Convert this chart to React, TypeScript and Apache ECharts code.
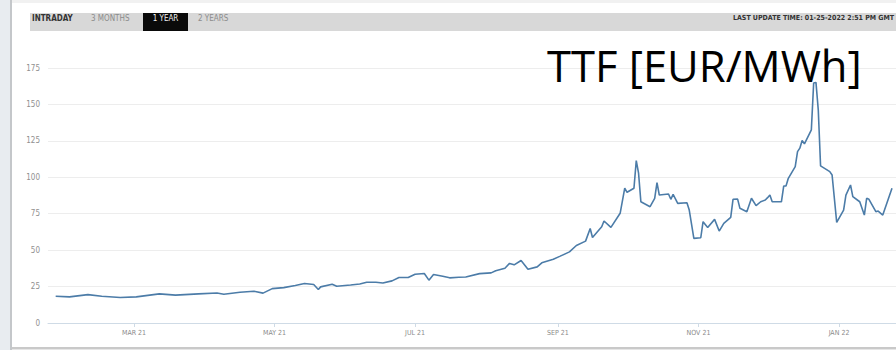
import React, { useEffect, useRef } from 'react';
import * as echarts from 'echarts';

const dates = [
  '2021-01-26','2021-02-01','2021-02-09','2021-02-15','2021-02-23','2021-03-02','2021-03-12','2021-03-19','2021-03-29','2021-04-06',
  '2021-04-09','2021-04-16','2021-04-22','2021-04-26','2021-04-30','2021-05-05','2021-05-10','2021-05-14','2021-05-18','2021-05-20',
  '2021-05-21','2021-05-26','2021-05-28','2021-06-03','2021-06-07','2021-06-10','2021-06-14','2021-06-17','2021-06-21','2021-06-24',
  '2021-06-28','2021-07-01','2021-07-05','2021-07-07','2021-07-09','2021-07-13','2021-07-16','2021-07-20','2021-07-23','2021-07-29',
  '2021-08-03','2021-08-05','2021-08-09','2021-08-11','2021-08-13','2021-08-16','2021-08-19','2021-08-23','2021-08-25','2021-08-30',
  '2021-09-02','2021-09-06','2021-09-09','2021-09-13','2021-09-15','2021-09-16','2021-09-20','2021-09-21','2021-09-24','2021-09-28',
  '2021-09-30','2021-10-01','2021-10-04','2021-10-05','2021-10-06','2021-10-07','2021-10-11','2021-10-13','2021-10-14','2021-10-15',
  '2021-10-19','2021-10-20','2021-10-21','2021-10-23','2021-10-27','2021-10-28','2021-10-30','2021-11-02','2021-11-03','2021-11-05',
  '2021-11-08','2021-11-10','2021-11-12','2021-11-15','2021-11-16','2021-11-18','2021-11-19','2021-11-22','2021-11-24','2021-11-26',
  '2021-11-28','2021-11-30','2021-12-01','2021-12-02','2021-12-03','2021-12-07','2021-12-08','2021-12-09','2021-12-10','2021-12-13',
  '2021-12-14','2021-12-15','2021-12-16','2021-12-17','2021-12-20','2021-12-21','2021-12-22','2021-12-23','2021-12-24','2021-12-28',
  '2021-12-29','2021-12-31','2022-01-03','2022-01-04','2022-01-06','2022-01-07','2022-01-10','2022-01-12','2022-01-13','2022-01-14',
  '2022-01-17','2022-01-18','2022-01-20','2022-01-24',
];

const prices = [
  18.4, 17.9, 19.5, 18.4, 17.5, 17.9, 20.0, 19.1, 20.0, 20.6,
  19.7, 21.1, 21.8, 20.5, 23.6, 24.3, 25.7, 27.1, 26.4, 23.0,
  24.8, 26.6, 25.2, 26.1, 26.8, 28.0, 28.0, 27.4, 28.9, 31.2,
  31.2, 33.5, 34.0, 29.4, 33.3, 32.1, 31.0, 31.4, 31.6, 33.9,
  34.4, 35.8, 37.6, 40.9, 39.9, 42.9, 36.9, 38.5, 41.3, 43.8,
  45.9, 48.8, 53.2, 56.2, 64.9, 58.7, 66.0, 70.0, 65.6, 75.3,
  92.5, 89.7, 92.5, 111.4, 102.8, 83.2, 79.8, 85.6, 96.3, 87.8,
  88.5, 84.9, 88.3, 82.1, 82.5, 77.5, 58.1, 58.5, 69.5, 65.6,
  71.1, 63.1, 68.4, 72.5, 84.9, 85.0, 78.7, 76.4, 85.6, 80.5,
  83.2, 84.4, 86.0, 87.8, 83.2, 83.2, 94.0, 94.0, 99.3, 107.3,
  117.6, 120.0, 125.2, 122.9, 132.6, 164.7, 165.1, 146.3, 107.8, 103.9,
  101.6, 69.1, 77.5, 87.8, 94.7, 86.7, 83.2, 74.1, 85.6, 84.9,
  76.4, 76.8, 74.1, 92.5,
];

const tickDates = ['2021-03-01', '2021-05-01', '2021-07-01', '2021-09-01', '2021-11-01', '2022-01-01'];
const tickLabels = ['MAR 21', 'MAY 21', 'JUL 21', 'SEP 21', 'NOV 21', 'JAN 22'];
const tabs = ['INTRADAY', '3 MONTHS', '1 YEAR', '2 YEARS'];
const titleText = 'TTF [EUR/MWh]';
const updateText = 'LAST UPDATE TIME: 01-25-2022 2:51 PM GMT';

function toTs(s: string): number {
  const [y, m, d] = s.split('-').map(Number);
  return new Date(y, m - 1, d).getTime();
}

export default function App() {
  const ref = useRef<HTMLDivElement>(null);

  useEffect(() => {
    if (!ref.current) return;
    const chart = echarts.init(ref.current, undefined, { renderer: 'svg' });
    const tickTs = tickDates.map(toTs);
    const narrow = '"DejaVu Sans Condensed", "Liberation Sans Narrow", "Liberation Sans", sans-serif';
    const tabX = [32, 91, 165.5, 198];

    const option: any = {
      animation: false,
      backgroundColor: '#ffffff',
      grid: { left: 48, right: 0, top: 68, bottom: 27, containLabel: false, outerBoundsMode: 'none' },
      xAxis: {
        type: 'value',
        min: new Date(2021, 0, 22, 16).getTime(),
        max: new Date(2022, 0, 25, 17, 45).getTime(),
        axisLine: { show: true, onZero: false, lineStyle: { color: '#cfdbe6', width: 1 } },
        axisTick: { show: true, length: 4, lineStyle: { color: '#cfdbe6' }, customValues: tickTs },
        axisLabel: {
          customValues: tickTs,
          color: '#8a8a8a',
          fontSize: 7,
          fontFamily: narrow,
          margin: 6,
          showMinLabel: true,
          showMaxLabel: true,
          formatter: (v: number) => {
            const i = tickTs.indexOf(v);
            return i >= 0 ? tickLabels[i] : '';
          },
        },
        splitLine: { show: false },
      },
      yAxis: {
        type: 'value',
        min: 0,
        max: 175,
        interval: 25,
        axisLine: { show: false },
        axisTick: { show: false },
        axisLabel: { color: '#8f8f8f', fontSize: 8, fontFamily: narrow, margin: 8 },
        splitLine: { lineStyle: { color: '#ededed', width: 1 } },
      },
      series: [
        {
          type: 'line',
          data: dates.map((d, i) => [toTs(d), prices[i]]),
          showSymbol: false,
          symbol: 'none',
          lineStyle: { color: '#4c7ca8', width: 1.6 },
          z: 3,
        },
      ],
      graphic: [
        { type: 'rect', shape: { x: 0, y: 0, width: 10, height: 350 }, style: { fill: '#e8ecf0' }, silent: true },
        { type: 'rect', shape: { x: 10, y: 0, width: 2, height: 350 }, style: { fill: '#c4c7ca' }, silent: true },
        { type: 'rect', shape: { x: 12, y: 0, width: 884, height: 3 }, style: { fill: '#f1f1f1' }, silent: true },
        { type: 'rect', shape: { x: 30, y: 13, width: 866, height: 18 }, style: { fill: '#d8d8d8' }, silent: true },
        { type: 'rect', shape: { x: 143, y: 13, width: 45, height: 18 }, style: { fill: '#0a0a0a' }, silent: true },
        {
          type: 'text', x: tabX[0], y: 18.5, silent: true,
          style: { text: tabs[0], fill: '#333333', font: `bold 8px ${narrow}`, align: 'left', verticalAlign: 'middle' },
        },
        {
          type: 'text', x: tabX[1], y: 18.5, silent: true,
          style: { text: tabs[1], fill: '#8c8c8c', font: `8px ${narrow}`, align: 'left', verticalAlign: 'middle' },
        },
        {
          type: 'text', x: tabX[2], y: 18.5, silent: true,
          style: { text: tabs[2], fill: '#f0f0f0', font: `8px ${narrow}`, align: 'center', verticalAlign: 'middle' },
        },
        {
          type: 'text', x: tabX[3], y: 18.5, silent: true,
          style: { text: tabs[3], fill: '#8c8c8c', font: `8px ${narrow}`, align: 'left', verticalAlign: 'middle' },
        },
        {
          type: 'text', x: 894, y: 18, silent: true,
          style: { text: updateText, fill: '#333333', font: `bold 7px ${narrow}`, align: 'right', verticalAlign: 'middle' },
        },
        {
          type: 'text', x: 547, y: 65, silent: true, z: 10,
          style: { text: titleText, fill: '#000000', font: `43.5px "Open Sans", "Noto Sans", sans-serif`, align: 'left', verticalAlign: 'middle' },
        },
        { type: 'rect', shape: { x: 12, y: 347, width: 884, height: 2 }, style: { fill: '#c9c9c9' }, silent: true },
        { type: 'rect', shape: { x: 12, y: 349, width: 884, height: 1 }, style: { fill: '#e6e6e6' }, silent: true },
      ],
    };

    chart.setOption(option);
    return () => chart.dispose();
  }, []);

  return <div ref={ref} style={{ position: 'fixed', left: 0, top: 0, width: 896, height: 350 }} />;
}
